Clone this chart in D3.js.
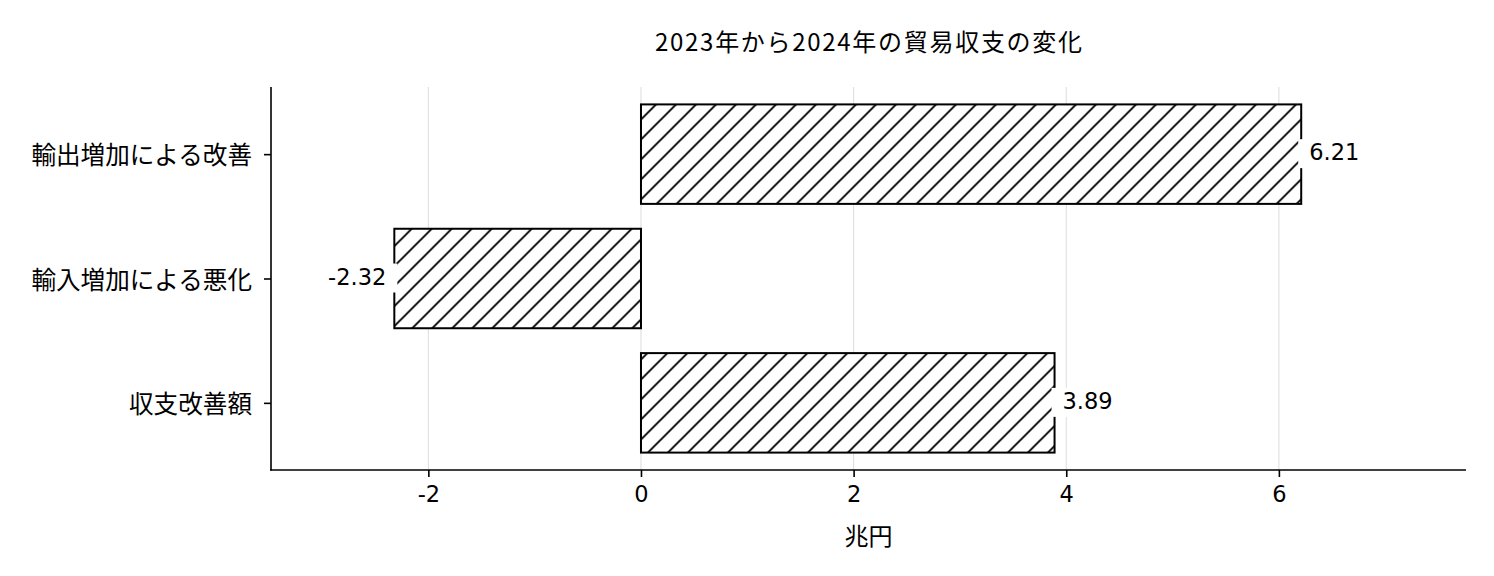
<!DOCTYPE html>
<html>
<head>
<meta charset="utf-8">
<script src="https://cdn.jsdelivr.net/npm/d3@7"></script>
<style>
  body { margin: 0; background: #fff; }
  text { font-family: "DejaVu Sans", "Noto Sans CJK JP", sans-serif; }
  .jp { font-family: "Noto Sans CJK JP", "DejaVu Sans", sans-serif; }
</style>
</head>
<body>
<div id="chart-area"></div>
<script>
// data
const categories = ["輸出増加による改善", "輸入増加による悪化", "収支改善額"];
const values = [6.21, -2.32, 3.89];
const valueLabels = ["6.21", "-2.32", "3.89"];
const xTicks = [-2, 0, 2, 4, 6];
const titleText = "2023年から2024年の貿易収支の変化";
const xLabelText = "兆円";

const width = 1494, height = 576;
const plot = { left: 271, right: 1466, top: 87, bottom: 470 };

const svg = d3.select("#chart-area")
    .append("svg")
    .attr("width", width)
    .attr("height", height);

// hatch pattern "/"
const defs = svg.append("defs");
const pat = defs.append("pattern")
    .attr("id", "hatch")
    .attr("patternUnits", "userSpaceOnUse")
    .attr("x", 0.5)
    .attr("width", 20)
    .attr("height", 20);
pat.append("rect").attr("width", 20).attr("height", 20).attr("fill", "#fff");
pat.append("path")
    .attr("d", "M0,20 L20,0 M-2,2 L2,-2 M18,22 L22,18")
    .attr("stroke", "#000")
    .attr("stroke-width", 1.9);

const x = d3.scaleLinear().domain([-3.48, 7.76]).range([plot.left, plot.right]);
const y = d3.scaleLinear().domain([-0.54, 2.54]).range([plot.top, plot.bottom]);
const barH = y(0.4) - y(-0.4);

// grid
svg.append("g")
    .selectAll("line")
    .data(xTicks)
    .join("line")
    .attr("x1", d => x(d)).attr("x2", d => x(d))
    .attr("y1", plot.top).attr("y2", plot.bottom)
    .attr("stroke", "#dcdcdc")
    .attr("stroke-width", 1);

// bars
svg.append("g")
    .selectAll("rect")
    .data(values)
    .join("rect")
    .attr("x", d => x(Math.min(0, d)))
    .attr("width", d => Math.abs(x(d) - x(0)))
    .attr("y", (d, i) => y(i) - barH / 2)
    .attr("height", barH)
    .attr("fill", "url(#hatch)")
    .attr("stroke", "#000")
    .attr("stroke-width", 2);

// value labels with white box
const lab = svg.append("g").selectAll("g")
    .data(values)
    .join("g");
lab.append("text")
    .attr("x", d => d >= 0 ? x(d) + 8 : x(d) - 8)
    .attr("y", (d, i) => y(i) + 6)
    .attr("text-anchor", d => d >= 0 ? "start" : "end")
    .attr("font-size", 22.5)
    .attr("fill", "#000")
    .text((d, i) => valueLabels[i]);
lab.each(function (d, i) {
    const g = d3.select(this);
    const bb = g.select("text").node().getBBox();
    g.insert("rect", "text")
        .attr("x", bb.x - 11)
        .attr("width", bb.width + 22)
        .attr("y", y(i) - 15)
        .attr("height", 29)
        .attr("fill", "#fff");
});

// x axis
const xAxis = svg.append("g")
    .attr("transform", `translate(0, ${plot.bottom})`)
    .call(d3.axisBottom(x).tickValues(xTicks).tickSize(7).tickPadding(9).tickFormat(d => String(d)));
xAxis.select(".domain").remove();
xAxis.selectAll(".tick line").attr("stroke-width", 1.6);
xAxis.selectAll(".tick text")
    .attr("font-size", 22.5)
    .attr("font-family", "DejaVu Sans")
    .attr("fill", "#000");

// y axis
const yAxis = svg.append("g")
    .attr("transform", `translate(${plot.left}, 0)`)
    .call(d3.axisLeft(y).tickValues([0, 1, 2]).tickSize(7).tickPadding(12).tickFormat(i => categories[i]));
yAxis.select(".domain").remove();
yAxis.selectAll(".tick line").attr("stroke-width", 1.6);
yAxis.selectAll(".tick text")
    .attr("class", "jp")
    .attr("font-size", 24.6)
    .attr("dy", "0.4em")
    .attr("fill", "#000");

// spines
svg.append("line")
    .attr("x1", plot.left).attr("x2", plot.left)
    .attr("y1", plot.top).attr("y2", plot.bottom + 0.8)
    .attr("stroke", "#000").attr("stroke-width", 1.6);
svg.append("line")
    .attr("x1", plot.left - 0.8).attr("x2", plot.right)
    .attr("y1", plot.bottom).attr("y2", plot.bottom)
    .attr("stroke", "#000").attr("stroke-width", 1.6);

// title and x label
svg.append("text")
    .attr("class", "jp")
    .attr("x", (plot.left + plot.right) / 2)
    .attr("y", 51)
    .attr("text-anchor", "middle")
    .attr("font-size", 24)
    .attr("textLength", 427)
    .attr("lengthAdjust", "spacing")
    .attr("fill", "#000")
    .text(titleText);

svg.append("text")
    .attr("class", "jp")
    .attr("x", (plot.left + plot.right) / 2)
    .attr("y", 545)
    .attr("text-anchor", "middle")
    .attr("font-size", 24)
    .attr("fill", "#000")
    .text(xLabelText);
</script>
</body>
</html>
